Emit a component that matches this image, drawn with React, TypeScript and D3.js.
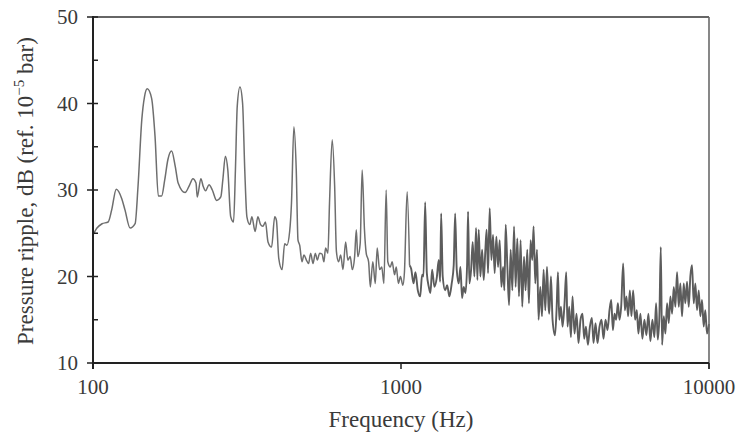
import React from 'react';
import * as d3 from 'd3';

// Low-frequency part (smooth region), Hz and dB
const lowFreq = [100, 103, 107, 112, 115, 119, 124, 127, 132, 137, 140, 144, 147, 150, 155, 159, 163, 167, 171, 175, 180, 185, 189, 199, 206, 211, 216, 218, 224, 228, 232, 238, 244, 252, 260, 264, 269, 274, 280, 286, 290, 294, 300, 306, 311, 316, 323, 328, 336, 343, 350, 356, 363];
const lowDb = [24.8, 25.6, 26.1, 26.3, 27.7, 30.1, 29.0, 27.7, 25.6, 26.1, 30.4, 38.1, 40.8, 41.7, 40.6, 36.2, 29.3, 29.3, 31.2, 33.5, 34.5, 32.7, 30.8, 29.7, 30.6, 31.3, 30.8, 29.2, 31.3, 30.4, 29.9, 30.6, 30.0, 28.8, 29.2, 31.2, 33.9, 32.3, 26.9, 26.3, 32.3, 39.7, 41.9, 40.0, 32.3, 26.9, 26.0, 26.9, 25.2, 26.9, 26.0, 25.8, 26.3];

// Mid part with harmonic spikes
const midFreq = [370, 380, 389, 394, 401, 411, 419, 426, 435, 441, 449, 457, 463, 469, 477, 484, 493, 501, 509, 518, 527, 535, 544, 554, 562, 569, 579, 586, 598, 609, 617, 627, 637, 648, 661, 672, 684, 695, 707, 716, 724, 737, 748, 761, 771, 785, 795, 810, 825, 837, 852, 866, 880, 895, 906, 923, 936, 953, 965, 981, 996, 1014, 1026, 1047];
const midDb = [24.0, 23.4, 26.9, 26.5, 22.1, 20.8, 23.8, 23.6, 25.2, 28.5, 37.3, 32.3, 24.2, 23.6, 21.7, 22.5, 21.9, 21.5, 22.7, 21.5, 22.7, 21.9, 22.7, 22.6, 21.7, 23.3, 22.7, 28.5, 35.8, 30.4, 22.9, 21.7, 22.5, 20.8, 24.0, 21.9, 22.3, 20.8, 22.3, 25.4, 22.3, 23.8, 32.3, 25.4, 22.7, 21.7, 18.8, 21.7, 19.2, 23.3, 20.8, 21.1, 19.2, 30.0, 21.7, 21.1, 21.7, 20.2, 21.1, 19.2, 20.0, 19.0, 20.5, 29.8];

// High part (dense ripple)
const highFreq = [1066, 1079, 1098, 1114, 1134, 1154, 1171, 1183, 1198, 1213, 1231, 1246, 1262, 1284, 1306, 1326, 1340, 1350, 1366, 1391, 1412, 1436, 1461, 1483, 1499, 1517, 1540, 1559, 1579, 1598, 1619, 1639, 1651, 1667, 1689, 1709, 1731, 1753, 1770, 1788, 1810, 1834, 1856, 1879, 1897, 1917, 1941, 1965, 1990, 2014, 2040, 2066, 2091, 2118, 2145, 2166, 2187, 2215, 2243, 2270, 2299, 2328, 2356, 2386, 2416, 2445, 2476, 2508, 2538, 2570, 2603, 2635, 2668, 2694, 2729, 2764, 2797, 2833, 2869, 2904, 2941, 2978, 3014];
const highDb = [21.3, 20.9, 19.2, 20.5, 18.4, 17.7, 20.2, 20.0, 28.6, 20.4, 18.8, 18.1, 20.8, 18.8, 19.8, 21.9, 19.4, 27.3, 20.0, 18.4, 19.0, 17.7, 19.2, 21.3, 27.3, 20.8, 19.2, 21.1, 17.5, 18.8, 18.1, 21.3, 27.5, 19.2, 20.8, 24.0, 20.0, 25.6, 19.6, 25.4, 20.0, 23.1, 19.6, 23.1, 25.4, 20.4, 27.9, 21.9, 24.8, 20.4, 24.6, 21.1, 24.2, 18.8, 21.1, 18.4, 26.0, 21.1, 16.7, 23.1, 18.4, 25.8, 18.8, 24.4, 17.7, 24.2, 16.5, 22.3, 18.4, 23.1, 16.9, 24.2, 21.9, 25.8, 19.2, 23.1, 15.0, 18.8, 15.4, 20.8, 16.1, 21.1, 16.5];

// Tail (3 kHz - 10 kHz)
const tailFreq = [3030, 3068, 3105, 3162, 3199, 3233, 3265, 3306, 3346, 3396, 3439, 3473, 3517, 3562, 3605, 3659, 3714, 3770, 3827, 3884, 3933, 3984, 4044, 4105, 4167, 4217, 4281, 4345, 4411, 4477, 4545, 4613, 4683, 4753, 4814, 4875, 4934, 4996, 5060, 5121, 5186, 5264, 5331, 5395, 5464, 5534, 5600, 5671, 5756, 5830, 5899, 5988, 6078, 6170, 6262, 6357, 6453, 6550, 6648, 6733, 6819, 6901, 6974, 7042, 7132, 7218, 7310, 7403, 7492, 7588, 7685, 7777, 7876, 7976, 8072, 8175, 8279, 8379, 8486, 8594, 8698, 8808, 8921, 9030, 9144, 9261, 9372, 9491, 9612, 9727, 9851, 10000];
const tailDb = [15.7, 20.0, 15.0, 13.2, 16.1, 20.5, 15.0, 16.5, 14.2, 16.9, 20.5, 14.2, 16.5, 13.0, 17.7, 13.4, 15.7, 12.3, 15.0, 15.7, 12.8, 14.2, 12.1, 14.2, 15.2, 12.3, 14.6, 12.3, 14.2, 15.0, 12.8, 15.0, 13.8, 16.1, 17.3, 13.8, 15.7, 15.0, 16.9, 15.0, 16.5, 21.5, 16.1, 17.7, 15.4, 18.4, 15.4, 18.4, 15.0, 16.1, 13.4, 15.7, 12.8, 15.0, 13.2, 15.7, 12.5, 15.0, 13.0, 16.9, 12.7, 15.4, 23.4, 12.1, 15.4, 13.4, 16.9, 14.6, 17.7, 15.7, 18.8, 16.5, 20.5, 16.5, 19.2, 15.4, 19.2, 16.9, 19.4, 16.5, 20.0, 21.3, 16.9, 19.2, 16.1, 18.4, 15.4, 17.3, 14.2, 16.1, 13.4, 14.5];

const xTickValues = [100, 1000, 10000];
const yTickValues = [10, 20, 30, 40, 50];
const yMinorTickValues = [15, 25, 35, 45];
const xTitle = 'Frequency (Hz)';

const FONT = '"Liberation Serif", "DejaVu Serif", serif';
const TEXT = '#3a3a3a';

export default function App() {
  const W = 742;
  const H = 437;
  const left = 93, right = 709, top = 17, bottom = 363;
  const x = d3.scaleLog().domain([100, 10000]).range([left, right]);
  const y = d3.scaleLinear().domain([10, 50]).range([bottom, top]);

  const toPts = (fs: number[], ds: number[]) => fs.map((f, i) => [f, ds[i]] as [number, number]);
  const lowPts = [...toPts(lowFreq, lowDb), ...toPts(midFreq, midDb)];
  const highPts = [...toPts(highFreq, highDb), ...toPts(tailFreq, tailDb)];
  const line = d3
    .line<[number, number]>()
    .x((d) => x(d[0]))
    .y((d) => y(d[1]))
    .curve(d3.curveMonotoneX);
  const joinLow = [...lowPts, highPts[0]];

  return (
    <svg
      width={W}
      height={H}
      style={{ position: 'absolute', left: 0, top: 0, background: '#fff' }}
      fontFamily={FONT}
    >
      <rect x={0} y={0} width={W} height={H} fill="#fff" />
      {/* data */}
      <path d={line(joinLow) || ''} fill="none" stroke="#6e6e6e" strokeWidth={1.5} strokeLinejoin="round" />
      <path d={line(highPts) || ''} fill="none" stroke="#5c5c5c" strokeWidth={1.9} strokeLinejoin="round" />

      {/* frame */}
      <line x1={left} x2={right} y1={top} y2={top} stroke="#333" strokeWidth={1.6} />
      <line x1={right} x2={right} y1={top} y2={bottom + 6} stroke="#6a6a6a" strokeWidth={1.6} />
      <line x1={left} x2={left} y1={top - 1} y2={bottom + 6} stroke="#222" strokeWidth={2} />
      <line x1={left} x2={right} y1={bottom} y2={bottom} stroke="#222" strokeWidth={2} />

      {/* y ticks */}
      {yTickValues.map((v) => (
        <g key={'y' + v}>
          <line x1={left - 6} x2={left + 5} y1={y(v)} y2={y(v)} stroke="#222" strokeWidth={1.5} />
          <text x={78} y={y(v)} dy="0.35em" textAnchor="end" fontSize={21} fill={TEXT}>
            {v}
          </text>
        </g>
      ))}
      {yMinorTickValues.map((v) => (
        <line key={'m' + v} x1={left} x2={left + 5} y1={y(v)} y2={y(v)} stroke="#222" strokeWidth={1.5} />
      ))}

      {/* x ticks */}
      {xTickValues.map((v) => (
        <g key={'x' + v}>
          <line x1={x(v)} x2={x(v)} y1={bottom} y2={bottom + 6} stroke="#222" strokeWidth={1.5} />
          <text x={x(v)} y={394} textAnchor="middle" fontSize={21} fill={TEXT}>
            {v}
          </text>
        </g>
      ))}

      {/* axis titles */}
      <text x={(left + right) / 2} y={427} textAnchor="middle" fontSize={23} fill={TEXT}>
        {xTitle}
      </text>
      <text
        transform={`translate(33, ${(top + bottom) / 2 + 1}) rotate(-90)`}
        textAnchor="middle"
        fontSize={23}
        fill={TEXT}
      >
        Pressure ripple, dB (ref. 10
        <tspan dy={-9} fontSize={15}>−5</tspan>
        <tspan dy={9}> bar)</tspan>
      </text>
    </svg>
  );
}
